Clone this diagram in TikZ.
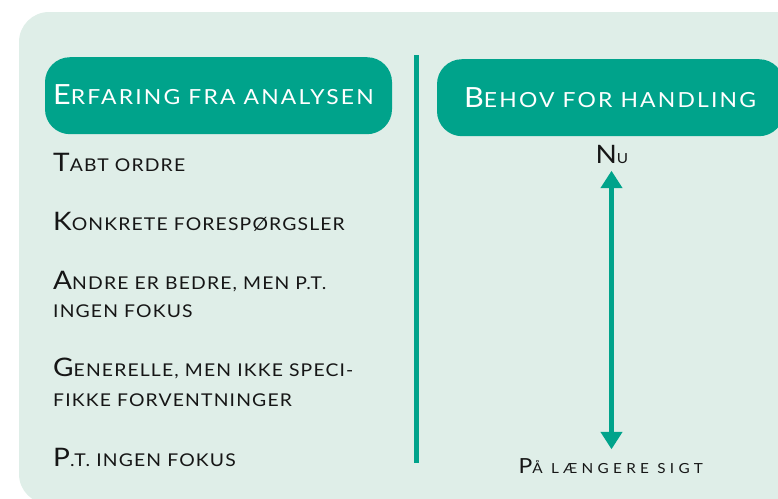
\documentclass[tikz,border=0pt]{standalone}
\usepackage{fontspec}
\setmainfont{Lato}
\newfontfamily\headfont{Lato}[LetterSpace=10.5, FakeStretch=1.1]
\newfontfamily\itemfont{Lato}[LetterSpace=6.5, FakeStretch=1.1]
\newfontfamily\nowfont{Lato}[LetterSpace=5, FakeStretch=1.1]
\newfontfamily\laterfont{Lato}[LetterSpace=31, FakeStretch=1.1]
\usetikzlibrary{arrows.meta}

\definecolor{brandgreen}{RGB}{0,163,139}
\definecolor{panelbg}{RGB}{223,238,232}
\definecolor{ink}{RGB}{22,22,22}

% hand-made small caps: a big initial followed by smaller capitals
\newcommand\hdcap[1]{{\fontsize{27.8}{28}\selectfont #1}}
\newcommand\hdsc{\fontsize{20.8}{21}\selectfont}
\newcommand\bdcap[1]{{\fontsize{25.5}{26}\selectfont #1}}
\newcommand\bdsc{\fontsize{17.6}{26}\selectfont}

\tikzset{
  headbox/.style={fill=brandgreen, rounded corners=25pt, inner sep=0pt,
    minimum width=347pt, minimum height=77pt},
  headtext/.style={text=white, inner sep=0pt, anchor=base west, font=\headfont},
  itemtext/.style={text=ink, inner sep=0pt, anchor=base west, font=\itemfont},
  endtext/.style={text=ink, inner sep=0pt, anchor=base},
  timearrow/.style={draw=brandgreen, line width=4.7pt,
    {Triangle[width=21pt,length=17.5pt]}-{Triangle[width=21pt,length=17.5pt]}}
}

\begin{document}
\begin{tikzpicture}[x=1pt,y=-1pt]
\useasboundingbox (0,0) rectangle (778,498);
\clip (0,0) rectangle (778,498);

% panel
\fill[panelbg, rounded corners=30pt] (19,12) rectangle (840,504);

% column headers
\node[headbox] (lefthead) at (218.5,95.7) {};
\node[headbox] (righthead) at (610.5,97.7) {};
\node[headtext] (lefttitle) at (53,104)
  {\hdcap{E}\hdsc RFARING FRA ANALYSEN};
\node[headtext] (righttitle) at (464,107.3)
  {\hdcap{B}\hdsc EHOV FOR HANDLING};

% divider
\draw[brandgreen, line width=4.7pt] (416.7,55) -- (416.7,462.7);

% findings
\node[itemtext] (i1) at (53,171.7) {\bdcap{T}\bdsc ABT ORDRE};
\node[itemtext] (i2) at (53,230) {\bdcap{K}\bdsc ONKRETE FORESPØRGSLER};
\node[itemtext] (i3a) at (53,289) {\bdcap{A}\bdsc NDRE ER BEDRE, MEN P.T.};
\node[itemtext] (i3b) at (53,317) {\bdsc INGEN FOKUS};
\node[itemtext] (i4a) at (53,376) {\bdcap{G}\bdsc ENERELLE, MEN IKKE SPECI-};
\node[itemtext] (i4b) at (53,406.5) {\bdsc FIKKE FORVENTNINGER};
\node[itemtext] (i5) at (53,466) {\bdcap{P}\bdsc .T. INGEN FOKUS};

% time scale
\node[endtext, font=\nowfont] (now) at (611.8,163.3)
  {{\fontsize{25.4}{26}\selectfont N}{\fontsize{13.9}{14}\selectfont U}};
\node[endtext, font=\laterfont] (later) at (610.8,473.3)
  {{\fontsize{20.8}{21}\selectfont P}{\fontsize{13.9}{14}\selectfont Å LÆNGERE SIGT}};
\draw[timearrow] ([xshift=-0.3pt,yshift=-7.4pt]now.base) -- ([xshift=0.7pt,yshift=24pt]later.base);
\end{tikzpicture}
\end{document}
